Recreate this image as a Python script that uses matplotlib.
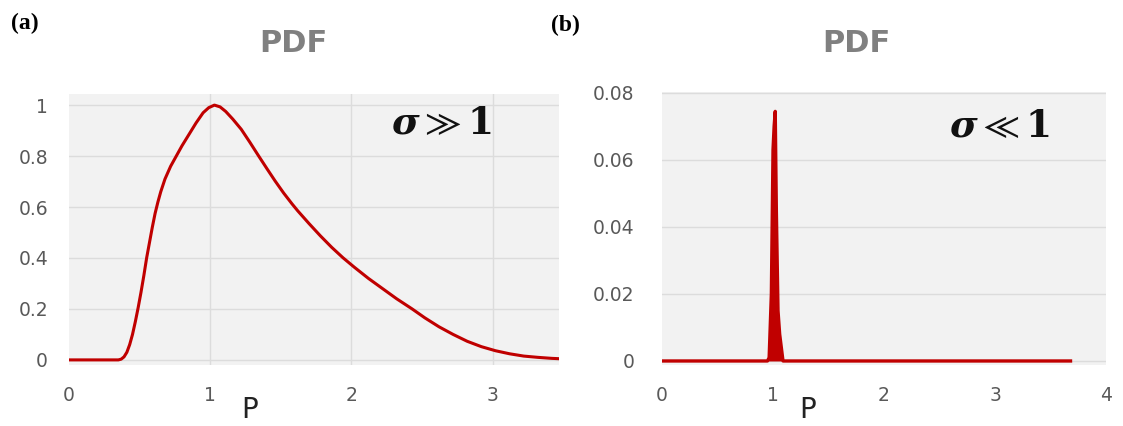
import matplotlib
matplotlib.use('Agg')
from matplotlib import pyplot as plt

plt.rcParams['mathtext.fontset'] = 'dejavuserif'

# broad distribution (sigma >> 1)
p_wide = [0.00, 0.35, 0.37, 0.39, 0.41, 0.43, 0.45, 0.47, 0.49, 0.51, 0.53,
          0.55, 0.57, 0.59, 0.61, 0.63, 0.65, 0.68, 0.72, 0.76, 0.80, 0.85,
          0.90, 0.95, 0.99, 1.03, 1.07, 1.11, 1.16, 1.22, 1.28, 1.34, 1.40,
          1.46, 1.52, 1.58, 1.62, 1.70, 1.78, 1.86, 1.94, 2.02, 2.12, 2.22,
          2.32, 2.43, 2.52, 2.62, 2.72, 2.82, 2.92, 3.02, 3.12, 3.22, 3.32,
          3.42, 3.50]
pdf_wide = [0.0, 0.0, 0.003, 0.012, 0.03, 0.06, 0.10, 0.15, 0.205, 0.265, 0.33,
            0.40, 0.46, 0.52, 0.575, 0.62, 0.66, 0.71, 0.76, 0.80, 0.84, 0.885,
            0.93, 0.97, 0.99, 1.0, 0.993, 0.975, 0.945, 0.905, 0.855, 0.803, 0.752,
            0.702, 0.655, 0.612, 0.585, 0.535, 0.487, 0.442, 0.401, 0.364, 0.32, 0.28,
            0.24, 0.20, 0.165, 0.13, 0.10, 0.073, 0.052, 0.036, 0.024, 0.015, 0.010,
            0.006, 0.004]

# narrow distribution (sigma << 1)
p_narrow = [0.0, 0.95, 0.965, 0.985, 1.0, 1.01, 1.02, 1.03, 1.045, 1.06, 1.075, 1.09, 3.68]
pdf_narrow = [0.0, 0.0, 0.001, 0.02, 0.063, 0.070, 0.0744, 0.045, 0.015, 0.008, 0.004, 0.0, 0.0]

tick_color = '#595959'
grid_color = '#dcdcdc'
red = '#c00000'
fig = plt.figure(figsize=(11.23, 4.26), dpi=100)


def style(ax, xticks, yticks, ylabels):
    ax.set_facecolor('#f2f2f2')
    for s in ax.spines.values():
        s.set_visible(False)
    ax.set_xticks(xticks)
    ax.set_yticks(yticks)
    ax.set_yticklabels(ylabels)
    ax.tick_params(length=0, colors=tick_color, labelsize=13.5)
    ax.tick_params(axis='x', pad=15)
    ax.grid(axis='y', color=grid_color, lw=1)
    ax.set_axisbelow(True)


ax1 = fig.add_axes([0.0614, 0.1432, 0.4364, 0.637])
for xv in [1, 2, 3]:
    ax1.axvline(xv, color=grid_color, lw=1, zorder=0.5)
ax1.plot(p_wide, pdf_wide, color=red, lw=2.2)
ax1.set_xlim(0, 3.47)
ax1.set_ylim(-0.02, 1.045)
style(ax1, [0, 1, 2, 3], [0, 0.2, 0.4, 0.6, 0.8, 1],
      ['0', '0.2', '0.4', '0.6', '0.8', '1'])
ax1.tick_params(axis='y', pad=15)
ax1.text(2.64, 0.925, r'$\mathbfit{\sigma} \gg \mathbf{1}$', fontsize=27,
         ha='center', va='center', color='#111111')

ax2 = fig.add_axes([0.5895, 0.1432, 0.3954, 0.641])
ax2.fill_between(p_narrow, pdf_narrow, color=red, lw=0)
ax2.plot(p_narrow, pdf_narrow, color=red, lw=2.4)
ax2.set_xlim(0, 3.98)
ax2.set_ylim(-0.0012, 0.0802)
style(ax2, [0, 1, 2, 3, 4], [0, 0.02, 0.04, 0.06, 0.08],
      ['0', '0.02', '0.04', '0.06', '0.08'])
ax2.tick_params(axis='y', pad=20)
ax2.text(3.04, 0.0698, r'$\mathbfit{\sigma} \ll \mathbf{1}$', fontsize=27,
         ha='center', va='center', color='#111111')

# panel titles
fig.text(0.2614, 0.899, 'PDF', fontsize=22, fontweight='bold', color='#808080',
         ha='center', va='center')
fig.text(0.763, 0.899, 'PDF', fontsize=22, fontweight='bold', color='#808080',
         ha='center', va='center')

fig.text(0.2226, 0.038, 'P', fontsize=20, color='#222222', ha='center', va='center')
fig.text(0.7195, 0.038, 'P', fontsize=20, color='#222222', ha='center', va='center')

fig.text(0.010, 0.946, '(a)', fontsize=17, fontweight='bold',
         family='Liberation Serif', va='center')
fig.text(0.491, 0.940, '(b)', fontsize=17, fontweight='bold',
         family='Liberation Serif', va='center')

fig.savefig('out.png', dpi=100)
